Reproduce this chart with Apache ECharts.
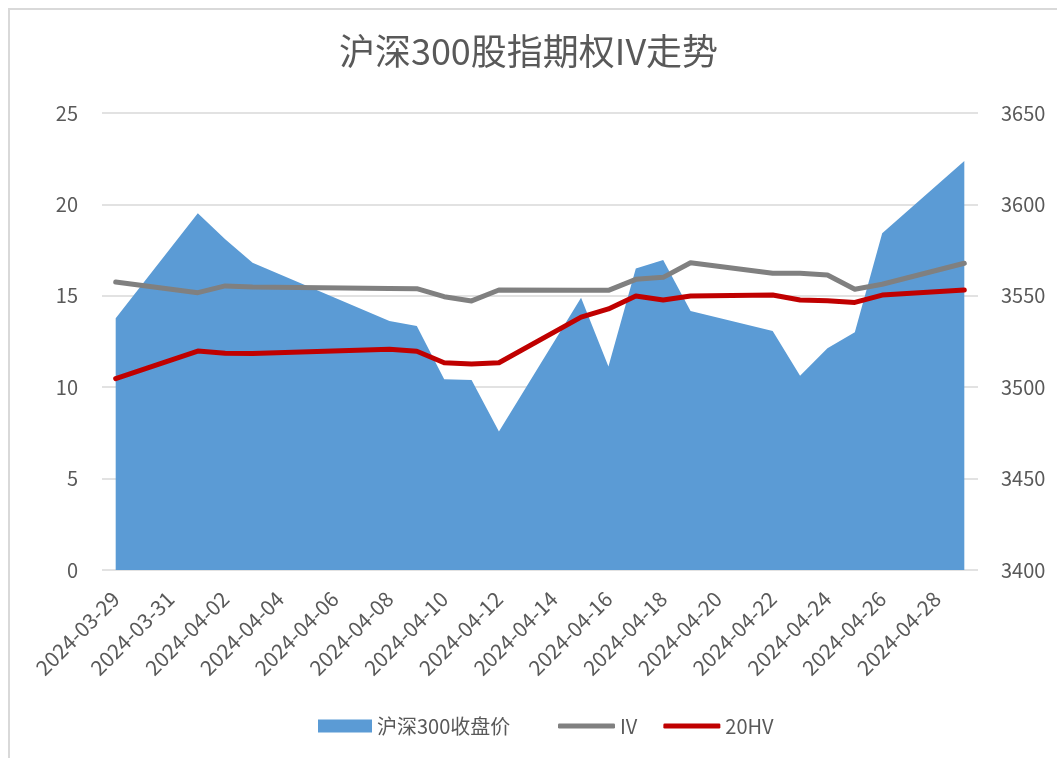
<!DOCTYPE html>
<html>
<head>
<meta charset="utf-8">
<title>沪深300股指期权IV走势</title>
<script src="https://cdn.jsdelivr.net/npm/echarts@6/dist/echarts.min.js"></script>
<style>
  html, body { margin: 0; padding: 0; background: #fff; }
  #main { width: 1057px; height: 758px; }
</style>
</head>
<body>
<div id="main"></div>
<script>
// every calendar day on the axis
let days = [
  '2024-03-29', '2024-03-30', '2024-03-31', '2024-04-01', '2024-04-02', '2024-04-03',
  '2024-04-04', '2024-04-05', '2024-04-06', '2024-04-07', '2024-04-08', '2024-04-09',
  '2024-04-10', '2024-04-11', '2024-04-12', '2024-04-13', '2024-04-14', '2024-04-15',
  '2024-04-16', '2024-04-17', '2024-04-18', '2024-04-19', '2024-04-20', '2024-04-21',
  '2024-04-22', '2024-04-23', '2024-04-24', '2024-04-25', '2024-04-26', '2024-04-27',
  '2024-04-28', '2024-04-29'
];
// trading days that carry data
let tradeDays = [
  '2024-03-29', '2024-04-01', '2024-04-02', '2024-04-03', '2024-04-08', '2024-04-09',
  '2024-04-10', '2024-04-11', '2024-04-12', '2024-04-15', '2024-04-16', '2024-04-17',
  '2024-04-18', '2024-04-19', '2024-04-22', '2024-04-23', '2024-04-24', '2024-04-25',
  '2024-04-26', '2024-04-29'
];
let closePrice = [
  3537.7, 3595.1, 3580.9, 3568.1, 3536.2, 3533.5,
  3504.4, 3504.0, 3475.7, 3549.0, 3511.3, 3565.0,
  3569.6, 3541.7, 3530.8, 3506.3, 3521.3, 3530.1,
  3584.2, 3623.8
];
let ivData = [
  15.75, 15.17, 15.54, 15.48, 15.40, 15.39,
  14.95, 14.72, 15.32, 15.31, 15.30, 15.90,
  16.01, 16.81, 16.23, 16.23, 16.14, 15.36,
  15.63, 16.78
];
let hvData = [
  10.47, 11.98, 11.86, 11.84, 12.08, 11.97,
  11.34, 11.27, 11.34, 13.83, 14.28, 14.99,
  14.77, 14.99, 15.04, 14.77, 14.73, 14.64,
  15.04, 15.32
];

let textColor = '#595959';
let fontName = '"Noto Sans CJK SC", "Noto Sans", sans-serif';

// spread trading-day values onto the calendar axis
function onDays(values) {
  let out = days.map(() => null);
  tradeDays.forEach((d, i) => { out[days.indexOf(d)] = values[i]; });
  return out;
}

let legendText = { color: textColor, fontSize: 20, fontFamily: fontName };

let chart = echarts.init(document.getElementById('main'));
let option = {
  backgroundColor: '#fff',
  textStyle: { fontFamily: fontName },
  graphic: [{
    type: 'rect',
    shape: { x: 9, y: 9, width: 1100, height: 800 },
    style: { fill: 'none', stroke: '#d9d9d9', lineWidth: 2 },
    silent: true
  }],
  title: {
    text: '沪深300股指期权IV走势',
    left: 'center',
    top: 28,
    textStyle: { color: textColor, fontSize: 36, fontWeight: 'normal', fontFamily: fontName }
  },
  legend: [{
    left: 313,
    top: 711,
    itemWidth: 54,
    itemHeight: 13,
    textStyle: legendText,
    data: [{ name: '沪深300收盘价', icon: 'rect' }]
  }, {
    left: 553,
    top: 711,
    itemGap: 26,
    itemWidth: 57,
    itemHeight: 5,
    icon: 'roundRect',
    textStyle: legendText,
    data: ['IV', '20HV']
  }],
  grid: { left: 102, right: 79, top: 113, bottom: 188 },
  xAxis: {
    type: 'category',
    data: days,
    boundaryGap: true,
    axisLine: { show: false },
    axisTick: { show: false },
    axisLabel: {
      interval: 1,
      rotate: 45,
      margin: 25,
      color: textColor,
      fontSize: 21,
      fontFamily: fontName
    }
  },
  yAxis: [{
    type: 'value',
    min: 0,
    max: 25,
    interval: 5,
    axisLine: { show: false },
    axisTick: { show: false },
    axisLabel: { color: textColor, fontSize: 20, margin: 24, fontFamily: fontName },
    splitLine: { lineStyle: { color: '#d9d9d9', width: 1.5 } }
  }, {
    type: 'value',
    min: 3400,
    max: 3650,
    interval: 50,
    axisLine: { show: false },
    axisTick: { show: false },
    axisLabel: {
      color: textColor,
      fontSize: 20,
      margin: 23,
      fontFamily: fontName,
      formatter: (v) => String(v)
    },
    splitLine: { show: false }
  }],
  series: [{
    name: '沪深300收盘价',
    type: 'line',
    yAxisIndex: 1,
    data: onDays(closePrice),
    connectNulls: true,
    symbol: 'none',
    lineStyle: { width: 0 },
    itemStyle: { color: '#5b9bd5' },
    areaStyle: { color: '#5b9bd5', opacity: 1 },
    z: 1
  }, {
    name: 'IV',
    type: 'line',
    yAxisIndex: 0,
    data: onDays(ivData),
    connectNulls: true,
    symbol: 'none',
    itemStyle: { color: '#808080' },
    lineStyle: { color: '#808080', width: 5, cap: 'round', join: 'round' },
    z: 2
  }, {
    name: '20HV',
    type: 'line',
    yAxisIndex: 0,
    data: onDays(hvData),
    connectNulls: true,
    symbol: 'none',
    itemStyle: { color: '#c00000' },
    lineStyle: { color: '#c00000', width: 5, cap: 'round', join: 'round' },
    z: 3
  }]
};
chart.setOption(option);
</script>
</body>
</html>
